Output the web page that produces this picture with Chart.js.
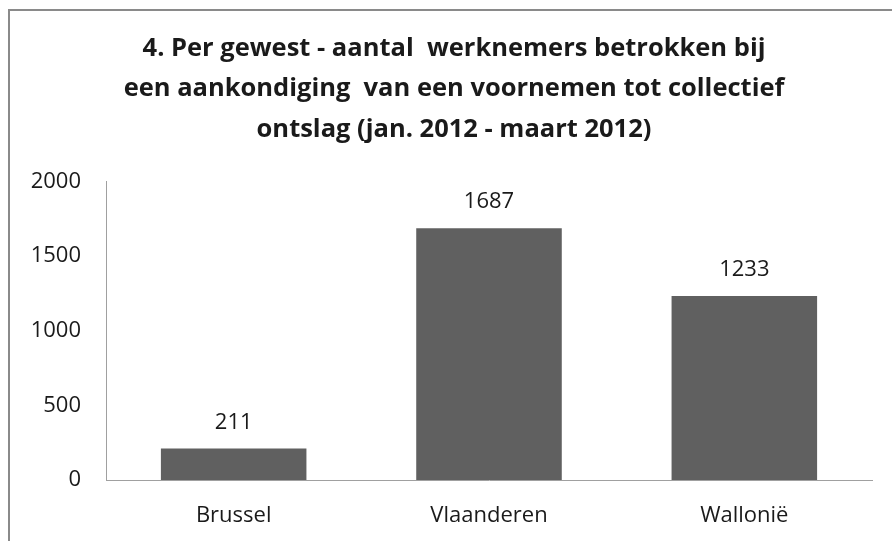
<!DOCTYPE html>
<html>
<head>
<meta charset="utf-8">
<script src="https://cdn.jsdelivr.net/npm/chart.js@4.4.1/dist/chart.umd.min.js"></script>
<style>
  html, body { margin: 0; padding: 0; background: #ffffff; overflow: hidden; }
  #wrap { position: relative; width: 892px; height: 541px; }
  #frame { position: absolute; left: 8px; top: 9px; width: 1000px; height: 700px; border: 2px solid #8a8a8a; box-sizing: border-box; pointer-events: none; }
  canvas { position: absolute; left: 0; top: 0; }
</style>
</head>
<body>
<div id="wrap">
  <canvas id="c" width="892" height="541"></canvas>
  <div id="frame"></div>
</div>
<script>
const titleLines = [
  "4. Per gewest - aantal  werknemers betrokken bij",
  "een aankondiging  van een voornemen tot collectief",
  "ontslag (jan. 2012 - maart 2012)"
];
const categories = ["Brussel", "Vlaanderen", "Wallonië"];
const values = [211, 1687, 1233];
const yTicks = [0, 500, 1000, 1500, 2000];

const FONT = "'Open Sans', 'Noto Sans', sans-serif";
const TEXT = "#1a1a1a";

const dataLabels = {
  id: "dataLabels",
  afterDatasetsDraw(chart) {
    const ctx = chart.ctx;
    const meta = chart.getDatasetMeta(0);
    ctx.save();
    ctx.font = "22px " + FONT;
    ctx.fillStyle = TEXT;
    ctx.textAlign = "center";
    ctx.textBaseline = "middle";
    meta.data.forEach((bar, i) => {
      ctx.fillText(String(values[i]), bar.x, bar.y - 26);
    });
    ctx.restore();
  }
};

// shift the title's horizontal span so it is centred like the original
const titleShift = {
  id: "titleShift",
  afterLayout(chart) {
    if (chart.titleBlock) {
      chart.titleBlock.left = 36;
    }
  }
};

new Chart(document.getElementById("c"), {
  type: "bar",
  data: {
    labels: categories,
    datasets: [{
      data: values,
      backgroundColor: "#606060",
      borderWidth: 0,
      categoryPercentage: 0.57,
      barPercentage: 1.0
    }]
  },
  options: {
    responsive: false,
    animation: false,
    devicePixelRatio: 1,
    layout: { padding: { left: 0, right: 20, top: 0, bottom: 0 } },
    plugins: {
      legend: { display: false },
      tooltip: { enabled: false },
      title: {
        display: true,
        text: titleLines,
        color: TEXT,
        font: { family: FONT, size: 25.5, weight: "bold", lineHeight: 40.5 / 25.5 },
        padding: { top: 28, bottom: 32 }
      }
    },
    scales: {
      x: {
        grid: { display: false, drawTicks: false },
        border: { display: true, color: "#a0a0a0", width: 1 },
        ticks: { color: TEXT, font: { family: FONT, size: 22 }, padding: 23 },
        afterFit(scale) { scale.height = 61; }
      },
      y: {
        min: 0,
        max: 2000,
        afterBuildTicks(scale) { scale.ticks = yTicks.map(v => ({ value: v })); },
        grid: { display: false, drawTicks: false },
        border: { display: true, color: "#a0a0a0", width: 1 },
        ticks: { color: TEXT, font: { family: FONT, size: 22 }, padding: 25, callback: (v) => String(v) },
        afterFit(scale) { scale.width = 106; }
      }
    }
  },
  plugins: [dataLabels, titleShift]
});
</script>
</body>
</html>
